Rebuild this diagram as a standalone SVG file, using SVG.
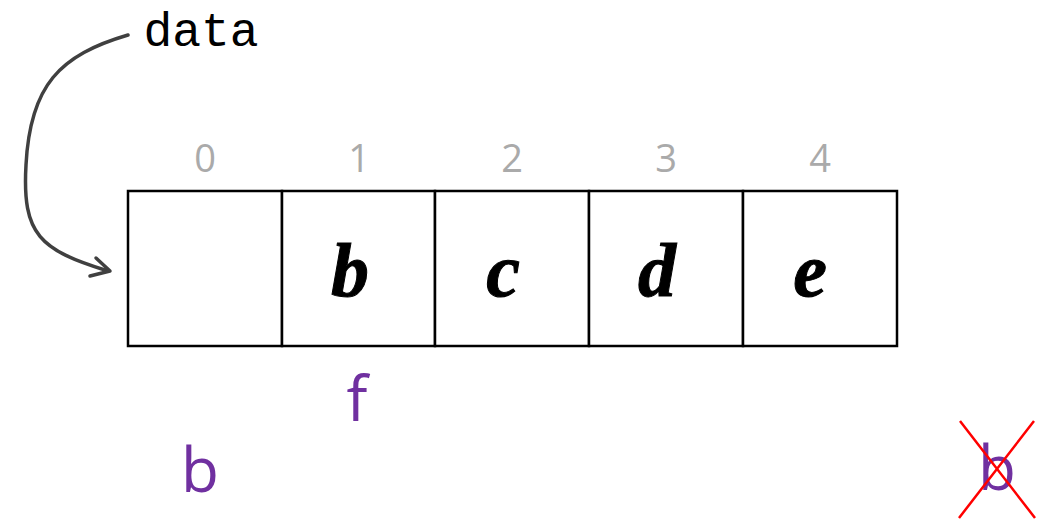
<svg xmlns="http://www.w3.org/2000/svg" width="1053" height="519" viewBox="0 0 1053 519">
<style>
.cell{fill:#fff;stroke:#000;stroke-width:2.5}
.idx{font-family:"Open Sans",sans-serif;font-size:38px;fill:#aaaaaa;text-anchor:middle}
.val{font-family:"Liberation Serif",serif;font-weight:bold;font-style:italic;font-size:76px;fill:#000;text-anchor:middle;stroke:#000;stroke-width:1}
.pur{font-family:"Open Sans",sans-serif;font-size:62px;fill:#7030a0;text-anchor:middle}
.conn{fill:none;stroke:#404040;stroke-width:3.5;stroke-linecap:round;stroke-linejoin:round}
</style>
<g id="label-data"><text x="201" y="46" font-family="Liberation Mono,monospace" font-size="48" text-anchor="middle">data</text></g>
<g id="connectors">
<path class="conn" d="M128,35 C60,55 30,85 26,165 C22,235 40,250 108,271"/>
<path class="conn" d="M96,258 L110,271 L90,276"/>
</g>
<g id="cell0"><rect class="cell" x="128" y="191" width="154" height="155"/><text class="idx" x="205" y="172">0</text></g>
<g id="cell1"><rect class="cell" x="282" y="191" width="153" height="155"/><text class="idx" x="359" y="172">1</text><text class="val" x="350" y="296">b</text></g>
<g id="cell2"><rect class="cell" x="435" y="191" width="154" height="155"/><text class="idx" x="512" y="172">2</text><text class="val" x="503" y="296">c</text></g>
<g id="cell3"><rect class="cell" x="589" y="191" width="154" height="155"/><text class="idx" x="666" y="172">3</text><text class="val" x="657" y="296">d</text></g>
<g id="cell4"><rect class="cell" x="743" y="191" width="154" height="155"/><text class="idx" x="820" y="172">4</text><text class="val" x="810" y="296">e</text></g>
<g id="label-f"><text class="pur" x="357" y="421">f</text></g>
<g id="label-b"><text class="pur" x="200" y="492">b</text></g>
<g id="label-b-crossed"><text class="pur" x="997" y="490">b</text>
<path d="M960,421 L1035,518 M1034,421 L959,518" stroke="#ff0000" stroke-width="2.5" fill="none"/></g>
</svg>
